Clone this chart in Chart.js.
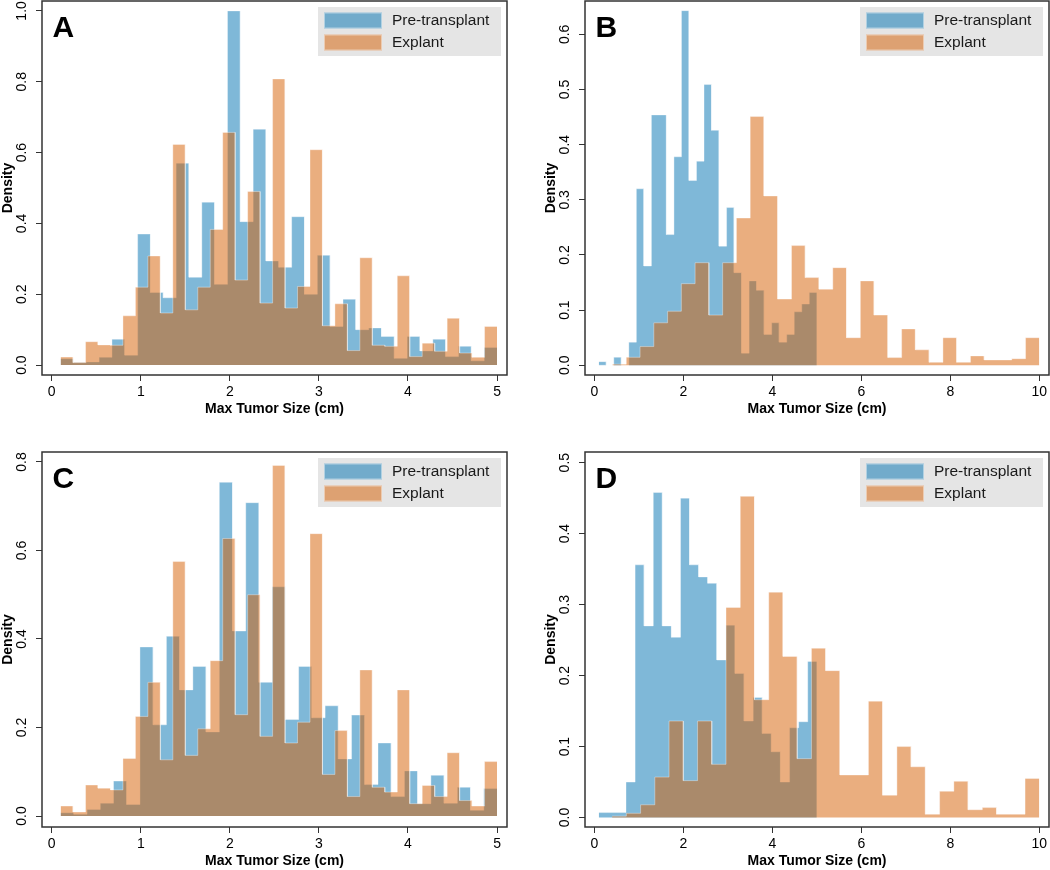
<!DOCTYPE html>
<html>
<head>
<meta charset="utf-8">
<title>Max tumor size: pre-transplant vs explant</title>
<script src="https://cdn.jsdelivr.net/npm/chart.js@4.4.0/dist/chart.umd.min.js"></script>
<style>
  html, body { margin: 0; padding: 0; background: #fff; }
  #figure { position: relative; width: 1050px; height: 870px; }
  #figure canvas { position: absolute; }
</style>
</head>
<body>
<div id="figure">
  <canvas id="panelA" width="525" height="418" style="left:0;top:0"></canvas>
  <canvas id="panelB" width="525" height="418" style="left:525px;top:0"></canvas>
  <canvas id="panelC" width="525" height="435" style="left:0;top:435px"></canvas>
  <canvas id="panelD" width="525" height="435" style="left:525px;top:435px"></canvas>
</div>
<script>
Chart.defaults.font.family = "'Liberation Sans', Arial, Helvetica, sans-serif";
Chart.defaults.color = '#000';

// axis ticks
const xTicksSmall = [0, 1, 2, 3, 4, 5];
const xTicksLarge = [0, 2, 4, 6, 8, 10];
const yTicksA = [0, 0.2, 0.4, 0.6, 0.8, 1.0];
const yTicksB = [0, 0.1, 0.2, 0.3, 0.4, 0.5, 0.6];
const yTicksC = [0, 0.2, 0.4, 0.6, 0.8];
const yTicksD = [0, 0.1, 0.2, 0.3, 0.4, 0.5];

const seriesLabels = ['Pre-transplant', 'Explant'];
const panelLetters = ['A', 'B', 'C', 'D'];
const xTitle = 'Max Tumor Size (cm)';
const yTitle = 'Density';

// histogram breaks [first, last]; number of bins = values.length
// Panel A
const preRangeA = [0.1, 5.0];
const preDensityA = [0.018, 0.007, 0.009, 0.022, 0.073, 0.028, 0.37, 0.205, 0.19, 0.57,
  0.248, 0.46, 0.228, 1.0, 0.405, 0.666, 0.294, 0.276, 0.419, 0.2,
  0.31, 0.109, 0.186, 0.1, 0.105, 0.081, 0.019, 0.081, 0.04, 0.073,
  0.024, 0.053, 0.012, 0.05];
const expRangeA = [0.1, 5.0];
const expDensityA = [0.0225, 0.007, 0.066, 0.057, 0.056, 0.139, 0.22, 0.308, 0.147, 0.623,
  0.156, 0.22, 0.383, 0.657, 0.24, 0.49, 0.175, 0.808, 0.161, 0.222,
  0.608, 0.111, 0.173, 0.041, 0.303, 0.056, 0.053, 0.252, 0.024, 0.062,
  0.039, 0.132, 0.034, 0.022, 0.109];

// Panel B
const preRangeB = [0.1, 5.0];
const preDensityB = [0.0066, 0, 0.0145, 0, 0.042, 0.32, 0.18, 0.454, 0.454, 0.237,
  0.378, 0.643, 0.335, 0.37, 0.509, 0.426, 0.216, 0.286, 0.168, 0.022,
  0.153, 0.136, 0.056, 0.077, 0.042, 0.056, 0.097, 0.111, 0.132];
const expRangeB = [0.1, 10.0];
const expDensityB = [0, 0.002, 0.0145, 0.034, 0.077, 0.098, 0.148, 0.186, 0.091, 0.186,
  0.267, 0.451, 0.307, 0.12, 0.217, 0.159, 0.138, 0.177, 0.05, 0.153,
  0.091, 0.014, 0.066, 0.028, 0.0054, 0.05, 0.0054, 0.017, 0.0097, 0.0097,
  0.012, 0.05];

// Panel C
const preRangeC = [0.1, 5.0];
const preDensityC = [0.0075, 0.004, 0.015, 0.029, 0.079, 0.026, 0.382, 0.206, 0.406, 0.285,
  0.338, 0.19, 0.754, 0.418, 0.708, 0.302, 0.518, 0.218, 0.338, 0.222,
  0.249, 0.129, 0.228, 0.071, 0.165, 0.044, 0.102, 0.028, 0.092, 0.029,
  0.065, 0.013, 0.062];
const expRangeC = [0.1, 5.0];
const expDensityC = [0.0225, 0.009, 0.07, 0.063, 0.059, 0.13, 0.225, 0.302, 0.127, 0.575,
  0.137, 0.197, 0.351, 0.627, 0.229, 0.5, 0.18, 0.792, 0.165, 0.212,
  0.638, 0.094, 0.193, 0.044, 0.33, 0.065, 0.054, 0.285, 0.028, 0.069,
  0.044, 0.143, 0.035, 0.0225, 0.123];

// Panel D
const preRangeD = [0.1, 5.0];
const preDensityD = [0.007, 0.007, 0.007, 0.05, 0.356, 0.27, 0.458, 0.27, 0.254, 0.45,
  0.356, 0.339, 0.33, 0.222, 0.271, 0.203, 0.136, 0.169, 0.1185, 0.0927,
  0.05, 0.1265, 0.135, 0.22];
const expRangeD = [0.4, 10.0];
const expDensityD = [0.002, 0.006, 0.018, 0.057, 0.136, 0.052, 0.136, 0.075, 0.296, 0.4525,
  0.166, 0.3175, 0.227, 0.083, 0.2385, 0.207, 0.06, 0.06, 0.164, 0.0315,
  0.1, 0.0715, 0.0047, 0.037, 0.051, 0.011, 0.014, 0.0047, 0.0047, 0.055];

const preColor = 'rgba(0, 114, 178, 0.5)';
const expColor = 'rgba(213, 94, 0, 0.5)';
const edgeColor = 'rgba(255, 255, 255, 0.35)';

// two points per bin so the outline is a plain step polyline
function histPoints(range, values) {
    const w = (range[1] - range[0]) / values.length;
    const pts = [];
    values.forEach((v, i) => {
        pts.push({x: range[0] + i * w, y: v});
        pts.push({x: range[0] + (i + 1) * w, y: v});
    });
    return pts;
}

const panelDecor = {
    id: 'panelDecor',
    afterDraw(chart, args, opts) {
        const {ctx, chartArea: a} = chart;
        ctx.save();

        // legend box, top right inside plot
        const bw = 183, bh = 49;
        const bx = a.right - 6 - bw, by = a.top + 6;
        ctx.fillStyle = '#e5e5e5';
        ctx.fillRect(bx, by, bw, bh);
        chart.data.datasets.forEach((ds, i) => {
            const sy = by + 5.5 + i * 22;
            ctx.fillStyle = ds.backgroundColor;
            ctx.fillRect(bx + 6, sy, 58, 16);
            ctx.strokeStyle = 'rgba(255,255,255,0.45)';
            ctx.lineWidth = 1;
            ctx.strokeRect(bx + 6.5, sy + 0.5, 57, 15);
            ctx.fillStyle = '#1a1a1a';
            ctx.font = "15.5px 'Liberation Sans', Arial, sans-serif";
            ctx.textBaseline = 'middle';
            ctx.textAlign = 'left';
            ctx.fillText(ds.label, bx + 74, sy + 8.5);
        });

        // panel letter
        ctx.fillStyle = '#000';
        ctx.font = "bold 30px 'Liberation Sans', Arial, sans-serif";
        ctx.textBaseline = 'alphabetic';
        ctx.fillText(opts.letter, a.left + 10.5, a.top + 35.5);

        // box around plot region
        ctx.strokeStyle = '#333';
        ctx.lineWidth = 1.5;
        ctx.strokeRect(a.left, a.top, a.right - a.left, a.bottom - a.top);
        ctx.restore();
    }
};

function makePanel(canvasId, letter, pre, preRange, exp, expRange, xTicks, xLim, yTicks, yLim, pad) {
    const ctx = document.getElementById(canvasId).getContext('2d');
    return new Chart(ctx, {
        type: 'line',
        data: {
            datasets: [
                {
                    label: seriesLabels[0],
                    data: histPoints(preRange, pre),
                    backgroundColor: preColor,
                    borderColor: edgeColor,
                    borderWidth: 1,
                    fill: 'origin',
                    order: 1
                },
                {
                    label: seriesLabels[1],
                    data: histPoints(expRange, exp),
                    backgroundColor: expColor,
                    borderColor: edgeColor,
                    borderWidth: 1,
                    fill: 'origin',
                    order: 0
                }
            ]
        },
        options: {
            responsive: false,
            animation: false,
            devicePixelRatio: 1,
            layout: {padding: pad},
            elements: {
                point: {radius: 0, hoverRadius: 0},
                line: {tension: 0}
            },
            plugins: {
                legend: {display: false},
                tooltip: {enabled: false},
                panelDecor: {letter: letter}
            },
            scales: {
                x: {
                    type: 'linear',
                    min: xLim[0],
                    max: xLim[1],
                    afterBuildTicks: (s) => { s.ticks = xTicks.map(v => ({value: v})); },
                    afterFit: (s) => {
                        s.height = 43;
                        s.paddingLeft = 0;
                        s.paddingRight = 0;
                    },
                    border: {display: false},
                    grid: {drawOnChartArea: false, drawTicks: true, tickLength: 6, color: '#333'},
                    ticks: {
                        autoSkip: false,
                        maxRotation: 0,
                        padding: 3,
                        color: '#000',
                        font: {size: 14},
                        callback: (v) => String(v)
                    },
                    title: {
                        display: true,
                        text: xTitle,
                        color: '#000',
                        font: {size: 14, weight: 'bold'},
                        padding: 0
                    }
                },
                y: {
                    type: 'linear',
                    min: yLim[0],
                    max: yLim[1],
                    afterBuildTicks: (s) => { s.ticks = yTicks.map(v => ({value: v})); },
                    afterFit: (s) => {
                        s.width = 42;
                        s.paddingTop = 0;
                        s.paddingBottom = 0;
                    },
                    border: {display: false},
                    grid: {drawOnChartArea: false, drawTicks: true, tickLength: 6, color: '#333'},
                    ticks: {
                        autoSkip: false,
                        minRotation: 90,
                        maxRotation: 90,
                        crossAlign: 'center',
                        padding: 4,
                        color: '#000',
                        font: {size: 14},
                        callback: (v) => v.toFixed(1)
                    },
                    title: {
                        display: true,
                        text: yTitle,
                        color: '#000',
                        font: {size: 14, weight: 'bold'},
                        padding: 0
                    }
                }
            }
        },
        plugins: [panelDecor]
    });
}

makePanel('panelA', panelLetters[0], preDensityA, preRangeA, expDensityA, expRangeA,
    xTicksSmall, [-0.109, 5.112], yTicksA, [-0.028, 1.028], {left: 0, right: 18, top: 1, bottom: 0});
makePanel('panelB', panelLetters[1], preDensityB, preRangeB, expDensityB, expRangeB,
    xTicksLarge, [-0.209, 10.218], yTicksB, [-0.0176, 0.6605], {left: 18, right: 1, top: 1, bottom: 0});
makePanel('panelC', panelLetters[2], preDensityC, preRangeC, expDensityC, expRangeC,
    xTicksSmall, [-0.109, 5.112], yTicksC, [-0.0248, 0.8225], {left: 0, right: 18, top: 17, bottom: 0});
makePanel('panelD', panelLetters[3], preDensityD, preRangeD, expDensityD, expRangeD,
    xTicksLarge, [-0.209, 10.218], yTicksD, [-0.0133, 0.515], {left: 18, right: 1, top: 17, bottom: 0});
</script>
</body>
</html>
